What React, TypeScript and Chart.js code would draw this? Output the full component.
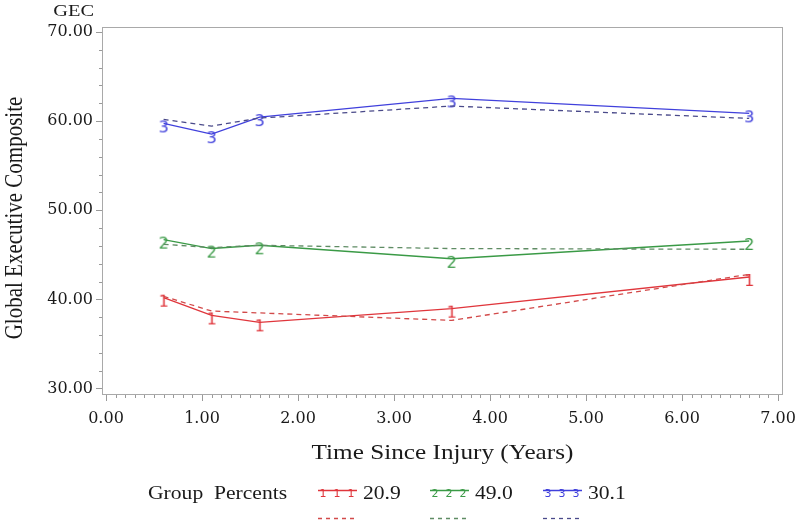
import React, { useEffect, useRef } from 'react';
import { Chart, registerables } from 'chart.js';
Chart.register(...registerables);

// ---- data ----
const times = [0.6, 1.1, 1.6, 3.6, 6.7];
const group1Observed = [40.19, 38.2, 37.42, 38.96, 42.51];
const group1Predicted = [40.34, 38.69, 38.48, 37.64, 42.81];
const group2Observed = [46.71, 45.7, 46.07, 44.55, 46.55];
const group2Predicted = [46.18, 45.81, 46.07, 45.7, 45.62];
const group3Observed = [59.74, 58.54, 60.45, 62.55, 60.87];
const group3Predicted = [60.19, 59.44, 60.34, 61.69, 60.3];
const groupMarkers = ['1', '2', '3'];
const groupPercents = ['20.9', '49.0', '30.1'];
const xTickValues = [0, 1, 2, 3, 4, 5, 6, 7];
const yTickValues = [30, 40, 50, 60, 70];
const xTitle = 'Time Since Injury (Years)';
const yTitle = 'Global Executive Composite';
const yUnitLabel = 'GEC';
const legendTitle = 'Group  Percents';

const solidColors = ['#e0363c', '#3a9a46', '#4040dc'];
const dashColors = ['#d24a4a', '#5f8c64', '#4a4a8a'];

const SERIF = '"DejaVu Serif", serif';
const TIMES = '"Liberation Serif", serif';
const STRETCH = 1.2;

function glyphCanvas(ch: string, color: string, size: number) {
  const c = document.createElement('canvas');
  c.width = 16;
  c.height = 40;
  const ctx = c.getContext('2d')!;
  ctx.fillStyle = color;
  ctx.font = `${size}px "DejaVu Sans", sans-serif`;
  ctx.textAlign = 'center';
  ctx.textBaseline = 'alphabetic';
  ctx.fillText(ch, 8, 17 + 0.73 * size);
  return c;
}

function stretchedText(ctx: CanvasRenderingContext2D, text: string, x: number, y: number, align: CanvasTextAlign) {
  ctx.save();
  ctx.translate(x, y);
  ctx.scale(STRETCH, 1);
  ctx.textAlign = align;
  ctx.fillText(text, 0, 0);
  ctx.restore();
}

export default function App() {
  const ref = useRef<HTMLCanvasElement | null>(null);

  useEffect(() => {
    if (!ref.current) return;
    const observed = [group1Observed, group2Observed, group3Observed];
    const predicted = [group1Predicted, group2Predicted, group3Predicted];
    const datasets: any[] = [];
    for (let g = 0; g < 3; g++) {
      datasets.push({
        label: 'pred' + g,
        data: times.map((t, i) => ({ x: t, y: predicted[g][i] })),
        borderColor: dashColors[g],
        borderWidth: 1.3,
        borderDash: [5, 4],
        pointRadius: 0,
        fill: false,
        tension: 0,
      });
    }
    for (let g = 0; g < 3; g++) {
      const glyph = glyphCanvas(groupMarkers[g], solidColors[g], 16);
      datasets.push({
        label: 'obs' + g,
        data: times.map((t, i) => ({ x: t, y: observed[g][i] })),
        borderColor: solidColors[g],
        backgroundColor: solidColors[g],
        borderWidth: 1.4,
        pointRadius: 3,
        pointStyle: glyph,
        fill: false,
        tension: 0,
      });
    }

    const decor = {
      id: 'decor',
      afterDraw(chart: any) {
        const ctx = chart.ctx;
        const { left, right, top, bottom } = chart.chartArea;
        const xs = chart.scales.x;
        const ys = chart.scales.y;
        ctx.save();
        // frame
        ctx.strokeStyle = '#a9a9a9';
        ctx.lineWidth = 1;
        ctx.strokeRect(left + 0.5, top + 0.5, right - left - 1, bottom - top - 1);
        // ticks
        ctx.strokeStyle = '#9a9a9a';
        ctx.beginPath();
        for (let v = 30; v <= 70; v += 2) {
          const y = Math.round(ys.getPixelForValue(v)) + 0.5;
          const len = v % 10 === 0 ? 6 : 3;
          ctx.moveTo(left, y);
          ctx.lineTo(left - len, y);
        }
        for (let k = 0; k <= 70; k++) {
          const v = k / 10;
          const x = Math.round(xs.getPixelForValue(v)) + 0.5;
          const len = k % 10 === 0 ? 6 : 3;
          ctx.moveTo(x, bottom);
          ctx.lineTo(x, bottom + len);
        }
        ctx.stroke();

        ctx.fillStyle = '#1a1a1a';
        ctx.textBaseline = 'middle';
        // GEC
        ctx.font = `17px ${TIMES}`;
        stretchedText(ctx, yUnitLabel, 94, 12, 'right');
        // x title
        ctx.font = `21px ${TIMES}`;
        stretchedText(ctx, xTitle, (left + right) / 2, 453, 'center');
        // y title
        ctx.save();
        ctx.translate(15, 218);
        ctx.scale(STRETCH, 1);
        ctx.rotate(-Math.PI / 2);
        ctx.textAlign = 'center';
        ctx.fillText(yTitle, 0, 0);
        ctx.restore();

        // legend
        ctx.font = `18px ${TIMES}`;
        stretchedText(ctx, legendTitle, 148, 494, 'left');
        const starts = [318, 430, 543];
        for (let g = 0; g < 3; g++) {
          const sx = starts[g];
          const ly = 490.5;
          ctx.strokeStyle = solidColors[g];
          ctx.lineWidth = 1.3;
          ctx.setLineDash([]);
          ctx.beginPath();
          ctx.moveTo(sx, ly);
          ctx.lineTo(sx + 39, ly);
          ctx.stroke();
          ctx.fillStyle = solidColors[g];
          ctx.font = `11px "DejaVu Sans", sans-serif`;
          ctx.textAlign = 'center';
          ctx.textBaseline = 'top';
          for (const off of [5, 19, 33]) ctx.fillText(groupMarkers[g], sx + off, ly - 2);
          ctx.strokeStyle = dashColors[g];
          ctx.setLineDash([4, 4]);
          ctx.beginPath();
          ctx.moveTo(sx, 518.5);
          ctx.lineTo(sx + 39, 518.5);
          ctx.stroke();
          ctx.setLineDash([]);
          ctx.fillStyle = '#1a1a1a';
          ctx.font = `18px ${TIMES}`;
          ctx.textBaseline = 'middle';
          stretchedText(ctx, groupPercents[g], sx + 45, 494, 'left');
        }
        ctx.restore();
      },
    };

    const chart = new Chart(ref.current, {
      type: 'line',
      data: { datasets },
      plugins: [decor],
      options: {
        animation: false,
        responsive: false,
        maintainAspectRatio: false,
        layout: { padding: { left: 0, top: 27, right: 17, bottom: 0 } },
        plugins: { legend: { display: false }, tooltip: { enabled: false }, title: { display: false } },
        scales: {
          x: {
            type: 'linear',
            min: -0.0417,
            max: 7.052,
            afterBuildTicks: (s: any) => {
              s.ticks = xTickValues.map((v) => ({ value: v }));
            },
            afterFit: (s: any) => {
              s.height = 130;
              s.paddingLeft = 0;
              s.paddingRight = 0;
            },
            ticks: {
              callback: (v: any) => Number(v).toFixed(2),
              font: { family: 'DejaVu Serif', size: 16 },
              color: '#1a1a1a',
              padding: 14,
              maxRotation: 0,
              autoSkip: false,
            },
            grid: { display: false, drawTicks: false },
            border: { display: false },
          },
          y: {
            type: 'linear',
            min: 29.27,
            max: 70.56,
            afterBuildTicks: (s: any) => {
              s.ticks = yTickValues.map((v) => ({ value: v }));
            },
            afterFit: (s: any) => {
              s.width = 102;
              s.paddingTop = 0;
              s.paddingBottom = 0;
            },
            ticks: {
              callback: (v: any) => Number(v).toFixed(2),
              font: { family: 'DejaVu Serif', size: 16 },
              color: '#1a1a1a',
              padding: 9,
              autoSkip: false,
            },
            grid: { display: false, drawTicks: false },
            border: { display: false },
          },
        },
      },
    });
    return () => chart.destroy();
  }, []);

  return (
    <div style={{ position: 'fixed', left: 0, top: 0, width: 800, height: 525, background: '#fff' }}>
      <canvas ref={ref} width={800} height={525} style={{ display: 'block' }} />
    </div>
  );
}
